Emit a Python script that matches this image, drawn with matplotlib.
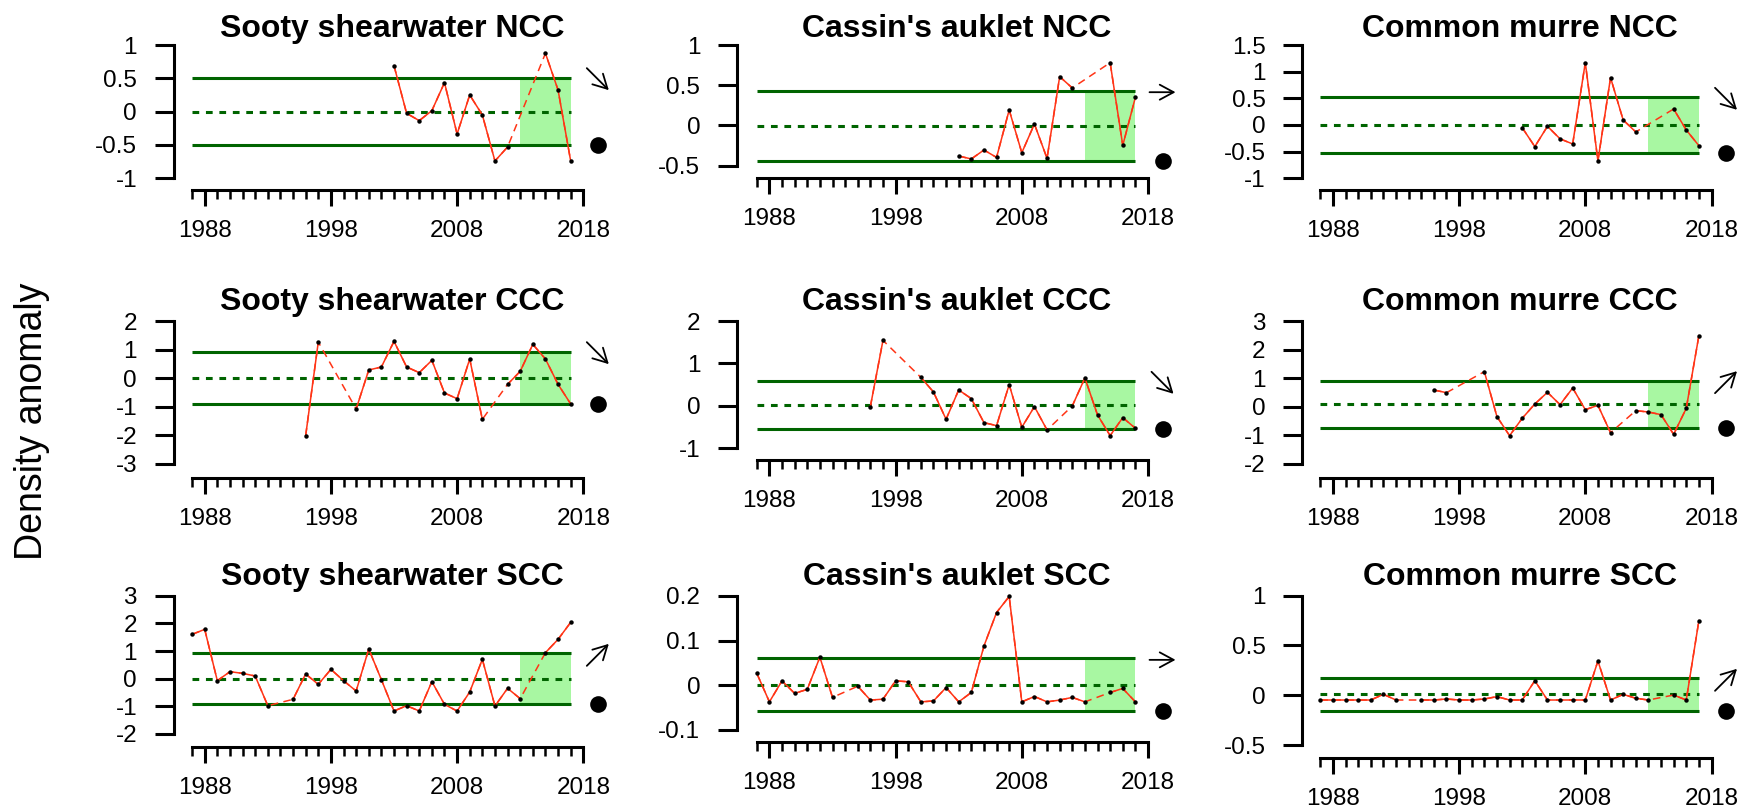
import matplotlib
matplotlib.use('Agg')
import matplotlib.pyplot as plt
import numpy as np

plt.rcParams['font.family'] = ['Liberation Sans', 'DejaVu Sans']
plt.rcParams['axes.unicode_minus'] = False

# ---- data ----
titles = ["Sooty shearwater NCC", "Cassin's auklet NCC", "Common murre NCC",
          "Sooty shearwater CCC", "Cassin's auklet CCC", "Common murre CCC",
          "Sooty shearwater SCC", "Cassin's auklet SCC", "Common murre SCC"]

yrs_ncc = [2003, 2004, 2005, 2006, 2007, 2008, 2009, 2010, 2011, 2012, 2015, 2016, 2017]
yrs_ccc = [1996, 1997, 2000, 2001, 2002, 2003, 2004, 2005, 2006, 2007, 2008, 2009, 2010,
           2012, 2013, 2014, 2015, 2016, 2017]
yrs_scc = [1987, 1988, 1989, 1990, 1991, 1992, 1993,
           1995, 1996, 1997, 1998, 1999, 2000, 2001, 2002, 2003, 2004, 2005, 2006, 2007,
           2008, 2009, 2010, 2011, 2012, 2013, 2015, 2016, 2017]

sooty_ncc = [0.69, -0.025, -0.135, 0.015, 0.435, -0.335, 0.25, -0.05, -0.74, -0.53, 0.875, 0.325, -0.74]
cassin_ncc = [-0.38, -0.416, -0.305, -0.397, 0.192, -0.339, 0.018, -0.409, 0.607, 0.466, 0.78, -0.248, 0.35]
murre_ncc = [-0.05, -0.406, -0.025, -0.26, -0.356, 1.169, -0.675, 0.888, 0.094, -0.131, 0.30, -0.094, -0.388]

sooty_ccc = [-2.01, 1.264, -1.077, 0.287, 0.392, 1.287, 0.392, 0.194, 0.625, -0.517, -0.716, 0.671, -1.438,
             -0.214, 0.24, 1.184, 0.671, -0.214, -0.9]
cassin_ccc = [-0.018, 1.543, 0.672, 0.327, -0.316, 0.375, 0.17, -0.395, -0.466, 0.5, -0.505, -0.018, -0.568,
              -0.002, 0.657, -0.214, -0.701, -0.277, -0.528]
murre_ccc = [0.587, 0.494, 1.229, -0.345, -1.009, -0.403, 0.098, 0.506, 0.075, 0.657, -0.1, 0.051, -0.905,
             -0.135, -0.182, -0.275, -0.963, -0.054, 2.487]

sooty_scc = [1.602, 1.783, -0.072, 0.253, 0.193, 0.096, -0.976,
             -0.747, 0.169, -0.205, 0.337, -0.072, -0.446, 1.072, -0.036, -1.169, -0.976, -1.169,
             -0.108, -0.928, -1.169, -0.482, 0.699, -0.988, -0.349, -0.723,
             0.94, 1.422, 2.036]
cassin_scc = [0.027, -0.037, 0.010, -0.018, -0.009, 0.063, -0.027,
              -0.002, -0.033, -0.031, 0.010, 0.008, -0.037, -0.035, -0.005, -0.037, -0.016, 0.088,
              0.163, 0.199, -0.037, -0.025, -0.037, -0.033, -0.027, -0.037,
              -0.016, -0.007, -0.037]
murre_scc = [-0.048, -0.048, -0.048, -0.048, -0.048, 0.009, -0.048,
             -0.048, -0.048, -0.038, -0.048, -0.048, -0.038, -0.014, -0.048, -0.048, 0.146, -0.048,
             -0.048, -0.048, -0.048, 0.344, -0.048, 0.009, -0.031, -0.048,
             0.002, -0.048, 0.749]

years = [yrs_ncc] * 3 + [yrs_ccc] * 3 + [yrs_scc] * 3
values = [sooty_ncc, cassin_ncc, murre_ncc, sooty_ccc, cassin_ccc, murre_ccc,
          sooty_scc, cassin_scc, murre_scc]

# lower (-1 sd), mean, upper (+1 sd)
bands = [[-0.505, 0.0, 0.51], [-0.438, -0.005, 0.432], [-0.519, 0.0, 0.519],
         [-0.914, 0.0, 0.928], [-0.552, 0.013, 0.579], [-0.73, 0.098, 0.914],
         [-0.928, 0.0, 0.916], [-0.0575, 0.0, 0.0604], [-0.158, 0.009, 0.17]]

# short-term trend: -1 down, 0 flat, 1 up
trends = [-1, 0, -1, -1, -1, 1, 1, 0, 1]

yticks = [[-1, -0.5, 0, 0.5, 1], [-0.5, 0, 0.5, 1], [-1, -0.5, 0, 0.5, 1, 1.5],
          [-3, -2, -1, 0, 1, 2], [-1, 0, 1, 2], [-2, -1, 0, 1, 2, 3],
          [-2, -1, 0, 1, 2, 3], [-0.1, 0, 0.1, 0.2], [-0.5, 0, 0.5, 1]]

year_grid = list(range(1987, 2018))
xmajor = [1988, 1998, 2008, 2018]
shade = [2013, 2017]

# ---- layout (pixels) ----
W, H = 1756, 810
PX_YR = 12.62
col_1988 = [204.7, 769.4, 1332.9]
col_yaxis = [174.1, 737.3, 1302.5]
row_title = [36.7, 310, 585]
ytop_px = [45, 45, 45, 321, 321, 321, 595.7, 596, 595.7]
ybot_px = [178.3, 165.7, 178.3, 464, 448.3, 464, 734, 730, 745]
xaxis_px = [190, 178.3, 190, 478.3, 460, 478.3, 746.7, 741.7, 758.3]

RED = '#FF3416'
DGREEN = '#006400'
LGREEN = '#A8F7A2'

fig = plt.figure(figsize=(W / 100, H / 100), dpi=100)

for i in range(9):
    r, c = divmod(i, 3)
    x0 = 1988 - (col_1988[c] - col_yaxis[c]) / PX_YR
    x1 = 2020.5
    left = col_yaxis[c]
    width = (x1 - x0) * PX_YR
    top, bot = ytop_px[i], ybot_px[i]
    ax = fig.add_axes([left / W, 1 - bot / H, width / W, (bot - top) / H])
    ax.set_xlim(x0, x1)
    tk = yticks[i]
    ax.set_ylim(tk[0], tk[-1])
    ax.patch.set_alpha(0)

    lo, mu, hi = bands[i]
    ax.fill_between(shade, lo, hi, color=LGREEN, lw=0, zorder=1)
    ax.plot([1987, 2017], [hi, hi], color=DGREEN, lw=2.2, zorder=2, solid_capstyle='butt')
    ax.plot([1987, 2017], [lo, lo], color=DGREEN, lw=2.2, zorder=2, solid_capstyle='butt')
    ax.plot([1987, 2017], [mu, mu], color=DGREEN, lw=2.2, ls=(0, (2.2, 2.2)), zorder=2)

    yr = years[i]
    v = values[i]
    solid = [v[yr.index(y)] if y in yr else np.nan for y in year_grid]
    ax.plot(yr, v, color=RED, lw=1.1, ls=(0, (5, 3.5)), zorder=3, clip_on=False)
    ax.plot(year_grid, solid, color=RED, lw=1.1, zorder=3, clip_on=False)
    ax.plot(yr, v, 'o', ms=3.2, color='black', mec='none', zorder=4, clip_on=False)

    # trend arrow (at +1 sd level) and mean-state dot (at -1 sd level)
    cx, cy = ax.transData.transform((2019.15, hi))
    cy -= 1.5
    if trends[i] == 0:
        dx, dy = 13, 0
    else:
        dx, dy = 11, 11 * trends[i]
    ax.annotate('', xy=(cx + dx, cy + dy), xytext=(cx - dx, cy - dy),
                xycoords='figure pixels', textcoords='figure pixels',
                arrowprops=dict(arrowstyle='->,head_length=0.5,head_width=0.27',
                                lw=1.3, color='black', shrinkA=0, shrinkB=0,
                                mutation_scale=20))
    ax.plot([2019.18], [lo], 'o', ms=12, color='black', mec='none', clip_on=False)

    for s in ['top', 'right']:
        ax.spines[s].set_visible(False)
    ax.spines['left'].set_linewidth(2.2)
    ax.spines['left'].set_bounds(tk[0], tk[-1])
    ax.spines['bottom'].set_linewidth(2.2)
    ax.spines['bottom'].set_bounds(1987, 2018)
    ax.spines['bottom'].set_position(('outward', (xaxis_px[i] - bot) * 0.72))

    ax.set_yticks(tk)
    ax.set_yticklabels(['%g' % t for t in tk])
    ax.set_xticks(xmajor)
    ax.set_xticklabels([str(x) for x in xmajor])
    ax.set_xticks(list(range(1987, 2019)), minor=True)
    ax.tick_params(axis='y', length=13.7, width=2.2, pad=13, labelsize=17.5)
    ax.tick_params(axis='x', which='major', length=11.2, width=2.2, pad=10.5, labelsize=17.5)
    ax.tick_params(axis='x', which='minor', length=6.5, width=1.8)

    fig.text((col_1988[c] + 14.85 * PX_YR) / W, 1 - row_title[r] / H, titles[i],
             ha='center', va='baseline', fontsize=23, fontweight='bold')

fig.text(31.7 / W, 1 - 421.7 / H, 'Density anomaly', rotation=90,
         ha='center', va='center', fontsize=27)

fig.savefig('out.png', dpi=100)
